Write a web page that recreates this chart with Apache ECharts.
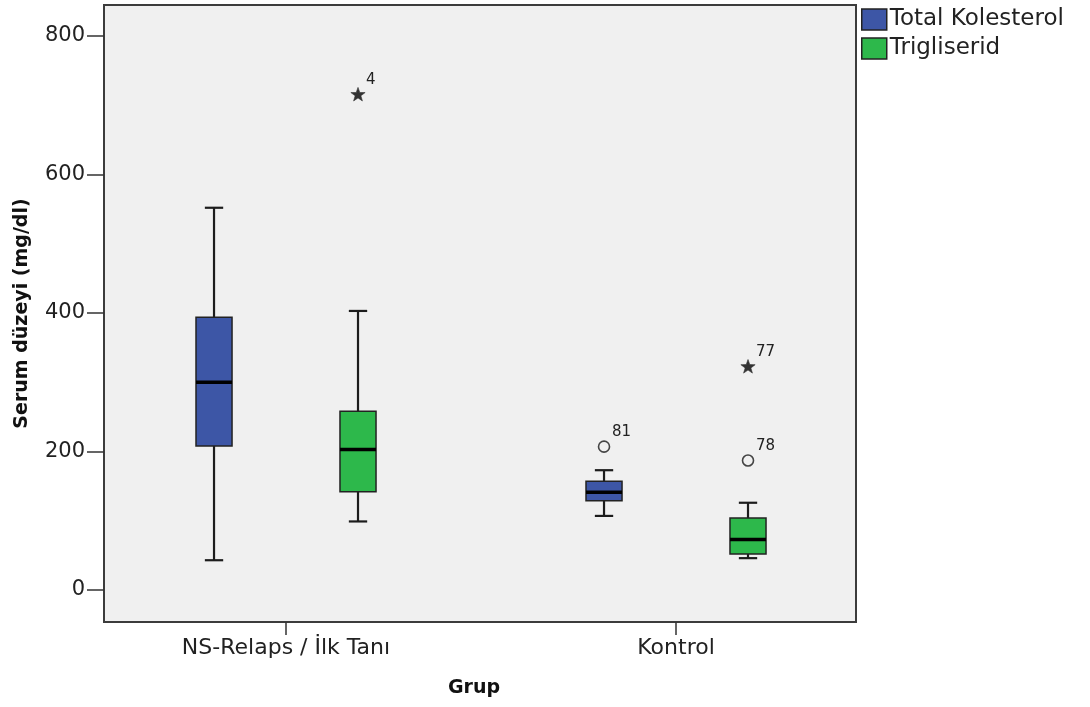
<!DOCTYPE html>
<html>
<head>
<meta charset="utf-8">
<title>Serum düzeyi</title>
<script src="https://cdn.jsdelivr.net/npm/echarts@6/dist/echarts.min.js"></script>
<style>
  html, body { margin: 0; padding: 0; background: #fff; }
  #chart { width: 1090px; height: 707px; }
</style>
</head>
<body>
<div id="chart"></div>
<script>
// gruplar (x ekseni)
var groups = ['NS-Relaps / İlk Tanı', 'Kontrol'];
var yTicks = [0, 200, 400, 600, 800];

// Total Kolesterol: min, Q1, medyan, Q3, max
var tkMin = [43, 107];
var tkQ1 = [208, 129];
var tkMed = [300, 141];
var tkQ3 = [394, 157];
var tkMax = [552, 173];

// Trigliserid
var tgMin = [99, 46];
var tgQ1 = [142, 52];
var tgMed = [203, 73];
var tgQ3 = [258, 104];
var tgMax = [403, 126];

// aykiri degerler
var outGroup = [0, 1, 1, 1];
var outSeries = ['Trigliserid', 'Total Kolesterol', 'Trigliserid', 'Trigliserid'];
var outValue = [715, 207, 322, 187];
var outKind = ['star', 'circle', 'star', 'circle'];
var outCase = ['4', '81', '77', '78'];

var FONT = 'DejaVu Sans';
var OFFSET = 0.1846;   // kutu merkezinin grup merkezine uzakligi (x birimi)
var BOX_HALF = 0.0462;
var CAP_HALF = 0.0235;

function boxData(mins, q1, med, q3, maxs) {
    return groups.map(function (g, i) {
        return [i + 1, mins[i], q1[i], med[i], q3[i], maxs[i]];
    });
}

function boxRenderer(offset) {
    return function (params, api) {
        var x = api.value(0) + offset;
        var pMin = api.coord([x, api.value(1)]);
        var pQ1 = api.coord([x, api.value(2)]);
        var pMed = api.coord([x, api.value(3)]);
        var pQ3 = api.coord([x, api.value(4)]);
        var pMax = api.coord([x, api.value(5)]);
        var left = api.coord([x - BOX_HALF, 0])[0];
        var right = api.coord([x + BOX_HALF, 0])[0];
        var capL = api.coord([x - CAP_HALF, 0])[0];
        var capR = api.coord([x + CAP_HALF, 0])[0];
        var line = { stroke: '#1c1c1c', lineWidth: 2.2 };
        return {
            type: 'group',
            children: [
                { type: 'line', shape: { x1: pMax[0], y1: pMax[1], x2: pQ3[0], y2: pQ3[1] }, style: line },
                { type: 'line', shape: { x1: pMin[0], y1: pMin[1], x2: pQ1[0], y2: pQ1[1] }, style: line },
                { type: 'line', shape: { x1: capL, y1: pMax[1], x2: capR, y2: pMax[1] }, style: line },
                { type: 'line', shape: { x1: capL, y1: pMin[1], x2: capR, y2: pMin[1] }, style: line },
                {
                    type: 'rect',
                    shape: { x: left, y: pQ3[1], width: right - left, height: pQ1[1] - pQ3[1] },
                    style: { fill: api.visual('color'), stroke: '#222', lineWidth: 1.5 }
                },
                { type: 'line', shape: { x1: left, y1: pMed[1], x2: right, y2: pMed[1] }, style: { stroke: '#000', lineWidth: 3.5 } }
            ]
        };
    };
}

function starPoints(cx, cy, ro, ri) {
    var pts = [];
    for (var k = 0; k < 10; k++) {
        var r = k % 2 === 0 ? ro : ri;
        var a = -Math.PI / 2 + k * Math.PI / 5;
        pts.push([cx + r * Math.cos(a), cy + r * Math.sin(a)]);
    }
    return pts;
}

function outlierData(name) {
    var d = [];
    for (var i = 0; i < outValue.length; i++) {
        if (outSeries[i] === name) {
            d.push([outGroup[i] + 1, outValue[i], outKind[i] === 'star' ? 1 : 0, outCase[i]]);
        }
    }
    return d;
}

function outlierRenderer(offset) {
    return function (params, api) {
        var p = api.coord([api.value(0) + offset, api.value(1)]);
        var mark = api.value(2) === 1 ?
            { type: 'polygon', shape: { points: starPoints(p[0], p[1], 7.5, 3) }, style: { fill: '#333', stroke: '#333', lineWidth: 0.6 } } :
            { type: 'circle', shape: { cx: p[0], cy: p[1], r: 5.5 }, style: { fill: 'none', stroke: '#444', lineWidth: 1.6 } };
        return {
            type: 'group',
            children: [
                mark,
                {
                    type: 'text',
                    style: {
                        x: p[0] + 8, y: p[1] - 7,
                        text: String(api.value(3)),
                        align: 'left', verticalAlign: 'bottom',
                        font: '15px "' + FONT + '"', fill: '#222'
                    }
                }
            ]
        };
    };
}

var colTK = '#3d56a6';
var colTG = '#2db84b';

var option = {
    backgroundColor: '#fff',
    animation: false,
    grid: {
        left: 104, top: 5, width: 752, height: 617,
        show: true,
        backgroundColor: '#f0f0f0',
        borderColor: '#3c3c3c',
        borderWidth: 2
    },
    legend: {
        orient: 'vertical',
        left: 861, top: 8,
        padding: 0,
        itemWidth: 25, itemHeight: 21, itemGap: 6,
        icon: 'rect',
        itemStyle: { borderColor: '#222', borderWidth: 1.5 },
        textStyle: { fontFamily: FONT, fontSize: 23, color: '#222', padding: [0, 0, 0, -2] },
        data: ['Total Kolesterol', 'Trigliserid']
    },
    xAxis: {
        type: 'value',
        min: 0.5333, max: 2.4615,
        name: 'Grup',
        nameLocation: 'middle',
        nameGap: 57,
        nameTextStyle: { fontFamily: FONT, fontSize: 19, fontWeight: 'bold', color: '#111', padding: [0, 12, 0, 0] },
        axisLine: { show: false, onZero: false },
        axisTick: { show: true, length: 13, customValues: [1, 2], lineStyle: { color: '#333', width: 1.5 } },
        axisLabel: {
            customValues: [1, 2],
            margin: 15,
            fontFamily: FONT, fontSize: 22, color: '#222',
            formatter: function (v) { return groups[Math.round(v) - 1]; }
        },
        splitLine: { show: false }
    },
    yAxis: {
        type: 'value',
        min: -46.2, max: 844.8,
        name: 'Serum düzeyi (mg/dl)',
        nameLocation: 'middle',
        nameGap: 72,
        nameTextStyle: { fontFamily: FONT, fontSize: 19, fontWeight: 'bold', color: '#111' },
        axisLine: { show: false, onZero: false },
        axisTick: { show: true, length: 17, customValues: yTicks, lineStyle: { color: '#333', width: 1.5 } },
        axisLabel: { customValues: yTicks, margin: 19, fontFamily: FONT, fontSize: 21, color: '#222' },
        splitLine: { show: false }
    },
    series: [
        {
            name: 'Total Kolesterol', type: 'custom',
            itemStyle: { color: colTK },
            renderItem: boxRenderer(-OFFSET),
            data: boxData(tkMin, tkQ1, tkMed, tkQ3, tkMax)
        },
        {
            name: 'Trigliserid', type: 'custom',
            itemStyle: { color: colTG },
            renderItem: boxRenderer(OFFSET),
            data: boxData(tgMin, tgQ1, tgMed, tgQ3, tgMax)
        },
        {
            name: 'Total Kolesterol', type: 'custom',
            itemStyle: { color: colTK },
            renderItem: outlierRenderer(-OFFSET),
            data: outlierData('Total Kolesterol')
        },
        {
            name: 'Trigliserid', type: 'custom',
            itemStyle: { color: colTG },
            renderItem: outlierRenderer(OFFSET),
            data: outlierData('Trigliserid')
        }
    ]
};

var myChart = echarts.init(document.getElementById('chart'));
myChart.setOption(option);
window.onresize = myChart.resize;
</script>
</body>
</html>
